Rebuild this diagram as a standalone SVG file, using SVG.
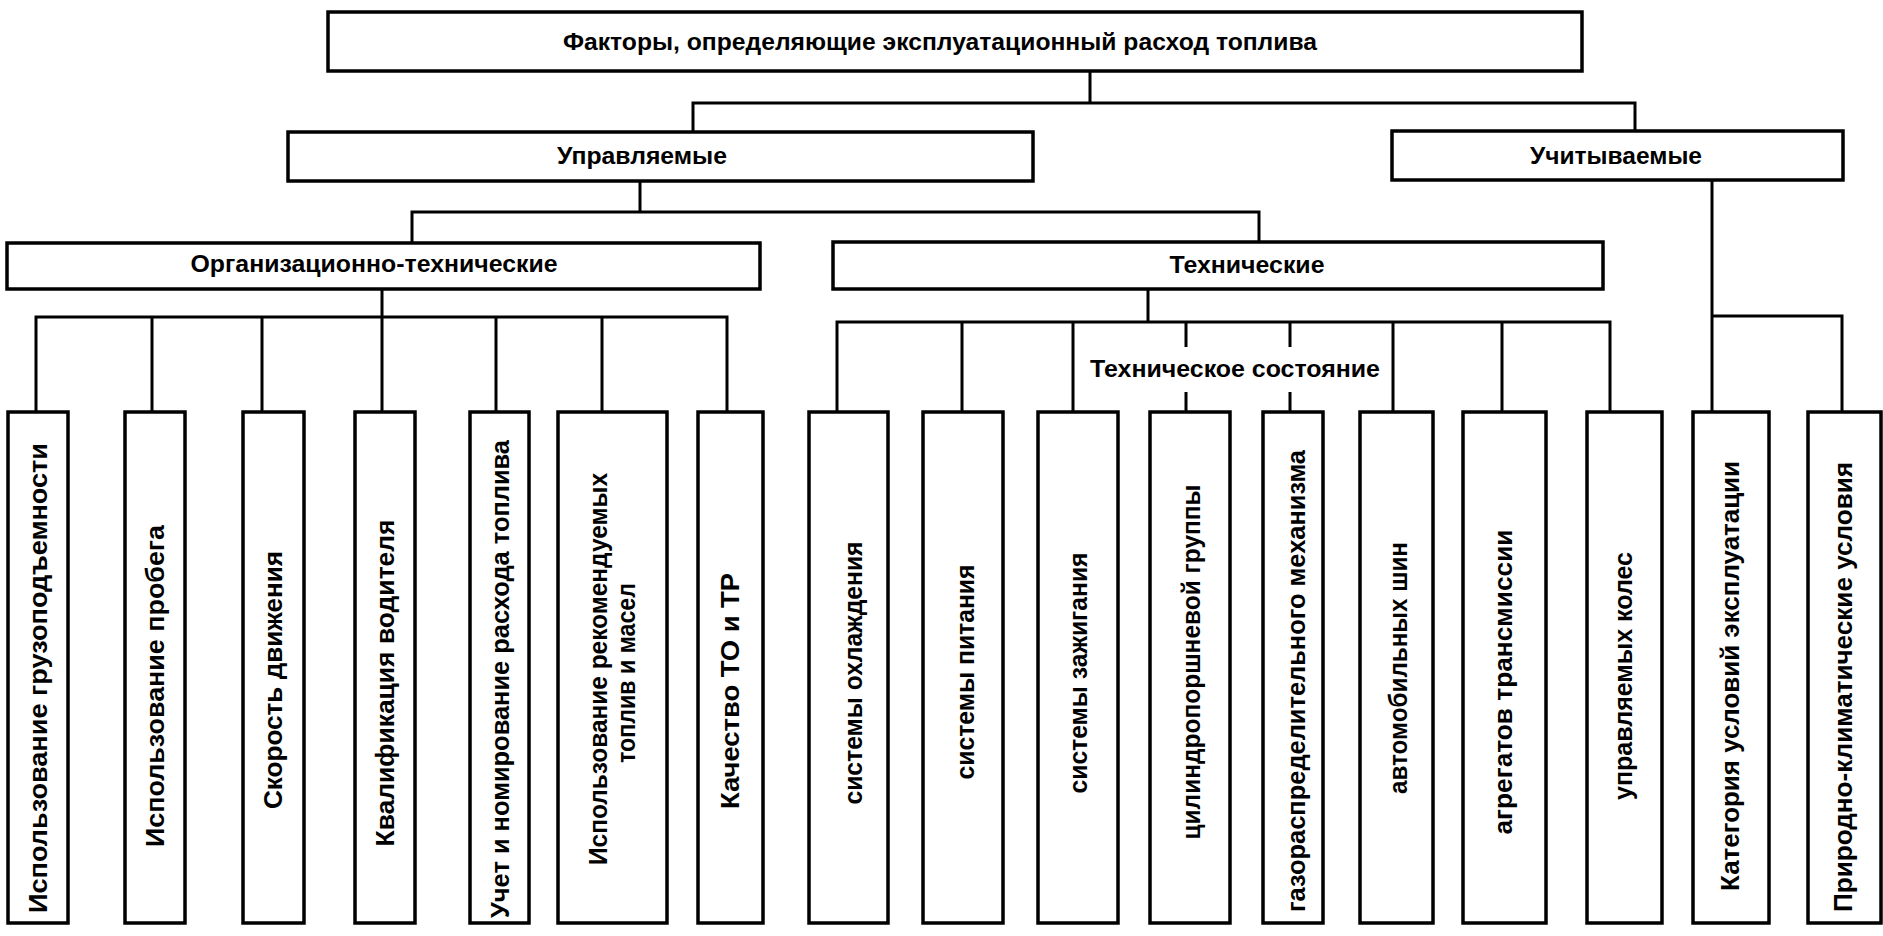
<svg xmlns="http://www.w3.org/2000/svg" width="1883" height="936" viewBox="0 0 1883 936">
<style>
.box{fill:#fff;stroke:#000;stroke-width:3.5}
.ln{fill:none;stroke:#000;stroke-width:3}
text{font-family:"Liberation Sans",Arial,sans-serif;font-weight:bold;fill:#000}
.h{font-size:23px;text-anchor:middle}
.v{font-size:25px;text-anchor:middle}
</style>
<rect width="1883" height="936" fill="#fff"/>
<g id="connectors">
<path class="ln" d="M1090 71V103M693 132V103H1635V131"/>
<path class="ln" d="M640 181V212M412 243V212H1259V242"/>
<path class="ln" d="M382 289V317M36 412V317H727V412M152 317V412M262 317V412M382 317V412M496 317V412M602 317V412"/>
<path class="ln" d="M1148 289V322M837 412V322H1610V412M962 322V412M1073 322V412M1186 322V347M1186 392V412M1290 322V347M1290 392V412M1393 322V412M1502 322V412"/>
<path class="ln" d="M1712 180V412M1712 316H1842V412"/>
<text class="h" x="1235" y="377" textLength="290" lengthAdjust="spacingAndGlyphs">Техническое состояние</text>
</g>
<g id="n-root"><rect class="box" x="328" y="12" width="1254" height="59"/><text class="h" x="940" y="50" textLength="754" lengthAdjust="spacingAndGlyphs">Факторы, определяющие эксплуатационный расход топлива</text></g>
<g id="n-upr"><rect class="box" x="288" y="132" width="745" height="49"/><text class="h" x="642" y="164" textLength="170" lengthAdjust="spacingAndGlyphs">Управляемые</text></g>
<g id="n-uch"><rect class="box" x="1392" y="131" width="451" height="49"/><text class="h" x="1616" y="164" textLength="172" lengthAdjust="spacingAndGlyphs">Учитываемые</text></g>
<g id="n-org"><rect class="box" x="7" y="243" width="753" height="46"/><text class="h" x="374" y="272" textLength="367" lengthAdjust="spacingAndGlyphs">Организационно-технические</text></g>
<g id="n-tech"><rect class="box" x="833" y="242" width="770" height="47"/><text class="h" x="1247" y="273" textLength="155" lengthAdjust="spacingAndGlyphs">Технические</text></g>

<g id="o1"><rect class="box" x="8" y="412" width="60" height="511"/><text class="v" transform="translate(38,678) rotate(-90)" y="9" textLength="470" lengthAdjust="spacingAndGlyphs">Использование грузоподъемности</text></g>
<g id="o2"><rect class="box" x="125" y="412" width="60" height="511"/><text class="v" transform="translate(155,686) rotate(-90)" y="9" textLength="322" lengthAdjust="spacingAndGlyphs">Использование пробега</text></g>
<g id="o3"><rect class="box" x="243" y="412" width="61" height="511"/><text class="v" transform="translate(273,680) rotate(-90)" y="9" textLength="258" lengthAdjust="spacingAndGlyphs">Скорость движения</text></g>
<g id="o4"><rect class="box" x="355" y="412" width="60" height="511"/><text class="v" transform="translate(385,683) rotate(-90)" y="9" textLength="327" lengthAdjust="spacingAndGlyphs">Квалификация водителя</text></g>
<g id="o5"><rect class="box" x="470" y="412" width="59" height="511"/><text class="v" transform="translate(500,679) rotate(-90)" y="9" textLength="478" lengthAdjust="spacingAndGlyphs">Учет и номирование расхода топлива</text></g>
<g id="o6"><rect class="box" x="558" y="412" width="109" height="511"/><text class="v" transform="translate(598,669) rotate(-90)" y="9" textLength="392" lengthAdjust="spacingAndGlyphs">Использование рекомендуемых</text><text class="v" transform="translate(626,673) rotate(-90)" y="9" textLength="180" lengthAdjust="spacingAndGlyphs">топлив и масел</text></g>
<g id="o7"><rect class="box" x="698" y="412" width="65" height="511"/><text class="v" transform="translate(730,691) rotate(-90)" y="9" textLength="236" lengthAdjust="spacingAndGlyphs">Качество ТО и ТР</text></g>

<g id="t1"><rect class="box" x="809" y="412" width="79" height="511"/><text class="v" transform="translate(853,673) rotate(-90)" y="9" textLength="263" lengthAdjust="spacingAndGlyphs">системы охлаждения</text></g>
<g id="t2"><rect class="box" x="923" y="412" width="80" height="511"/><text class="v" transform="translate(965,672) rotate(-90)" y="9" textLength="215" lengthAdjust="spacingAndGlyphs">системы питания</text></g>
<g id="t3"><rect class="box" x="1038" y="412" width="80" height="511"/><text class="v" transform="translate(1078,673) rotate(-90)" y="9" textLength="241" lengthAdjust="spacingAndGlyphs">системы зажигания</text></g>
<g id="t4"><rect class="box" x="1150" y="412" width="80" height="511"/><text class="v" transform="translate(1191,662) rotate(-90)" y="9" textLength="355" lengthAdjust="spacingAndGlyphs">цилиндропоршневой группы</text></g>
<g id="t5"><rect class="box" x="1263" y="412" width="60" height="511"/><text class="v" transform="translate(1296,681) rotate(-90)" y="9" textLength="462" lengthAdjust="spacingAndGlyphs">газораспределительного механизма</text></g>
<g id="t6"><rect class="box" x="1360" y="412" width="73" height="511"/><text class="v" transform="translate(1398,668) rotate(-90)" y="9" textLength="252" lengthAdjust="spacingAndGlyphs">автомобильных шин</text></g>
<g id="t7"><rect class="box" x="1463" y="412" width="83" height="511"/><text class="v" transform="translate(1503,682) rotate(-90)" y="9" textLength="305" lengthAdjust="spacingAndGlyphs">агрегатов трансмиссии</text></g>
<g id="t8"><rect class="box" x="1587" y="412" width="75" height="511"/><text class="v" transform="translate(1623,676) rotate(-90)" y="9" textLength="248" lengthAdjust="spacingAndGlyphs">управляемых колес</text></g>

<g id="u1"><rect class="box" x="1693" y="412" width="76" height="511"/><text class="v" transform="translate(1730,676) rotate(-90)" y="9" textLength="430" lengthAdjust="spacingAndGlyphs">Категория условий эксплуатации</text></g>
<g id="u2"><rect class="box" x="1808" y="412" width="73" height="511"/><text class="v" transform="translate(1843,687) rotate(-90)" y="9" textLength="450" lengthAdjust="spacingAndGlyphs">Природно-климатические условия</text></g>
</svg>
